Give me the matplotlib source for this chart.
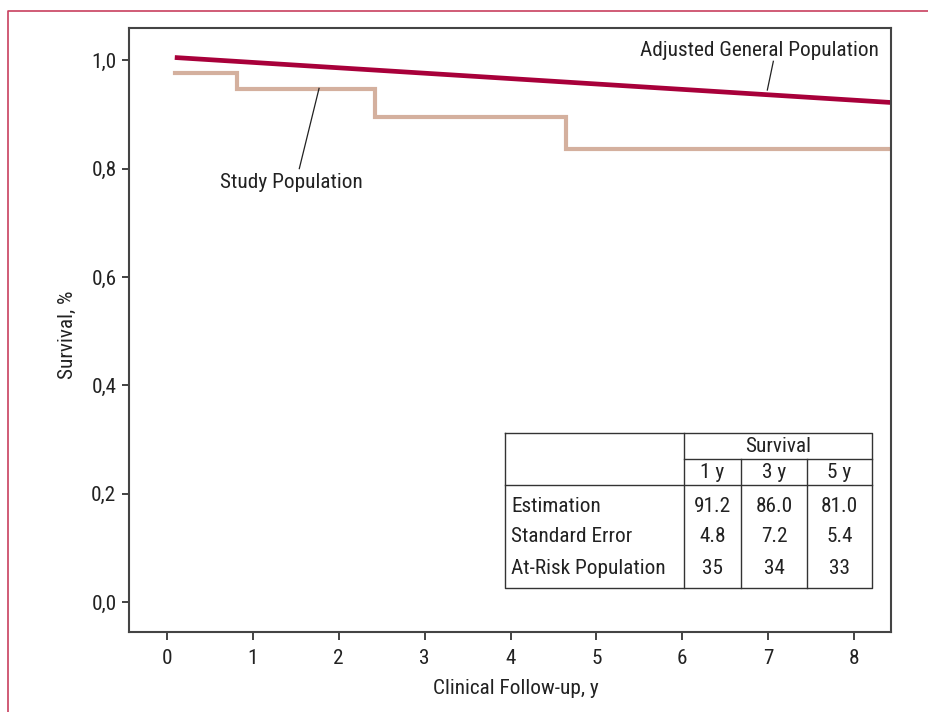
import numpy as np
import matplotlib
matplotlib.use("Agg")
import matplotlib.pyplot as plt
from matplotlib.lines import Line2D

plt.rcParams['font.family'] = ['Roboto Condensed', 'DejaVu Sans']

# data
general_x = [0.09, 8.43]
general_y = [1.005, 0.922]
study_x = [0.09, 0.82, 2.42, 4.65, 8.43]
study_y = [0.977, 0.947, 0.895, 0.836, 0.836]
xticks = list(range(0, 9))
yticks = [0.0, 0.2, 0.4, 0.6, 0.8, 1.0]
ytick_labels = ["0,0", "0,2", "0,4", "0,6", "0,8", "1,0"]

tbl_cols = ["1 y", "3 y", "5 y"]
tbl_rows = ["Estimation", "Standard Error", "At-Risk Population"]
tbl_vals = [["91.2", "86.0", "81.0"],
            ["4.8", "7.2", "5.4"],
            ["35", "34", "33"]]

RED = "#a8003a"
TAN = "#d4b09e"
DARK = "#222222"
W, H = 929, 712
FS = 15.3

fig = plt.figure(figsize=(W / 100, H / 100), dpi=100)
ax = fig.add_axes([129 / W, 1 - 632 / H, (891 - 129) / W, (632 - 27.7) / H])

ax.plot(general_x, general_y, color=RED, lw=3.4, solid_capstyle='butt')
ax.step(study_x, study_y, where='post', color=TAN, lw=3.0, solid_joinstyle='miter')

ax.set_xlim(-0.443, 8.43)
ax.set_ylim(-0.055, 1.06)
ax.set_xticks(xticks)
ax.set_yticks(yticks)
ax.set_yticklabels(ytick_labels)
ax.tick_params(labelsize=FS, colors=DARK, width=1.2)
ax.tick_params(axis='x', length=6, pad=6)
ax.tick_params(axis='y', length=5, pad=4)
for s in ax.spines.values():
    s.set_color("#444444")
    s.set_linewidth(1.5)
ax.set_xlabel("Clinical Follow-up, y", fontsize=FS, color=DARK)
ax.set_ylabel("Survival, %", fontsize=FS, color=DARK)
ax.xaxis.set_label_coords(0.508, -0.078)
ax.yaxis.set_label_coords(-0.068, 0.492)

# labels with leader lines
ax.text(6.9, 1.018, "Adjusted General Population", fontsize=FS, color=DARK, ha='center', va='center')
ax.plot([7.06, 6.99], [0.998, 0.945], color=DARK, lw=0.9)
ax.text(1.445, 0.775, "Study Population", fontsize=FS, color=DARK, ha='center', va='center')
ax.plot([1.77, 1.54], [0.948, 0.80], color=DARK, lw=0.9)


def fx(px):
    return px / W


def fy(py):
    return 1 - py / H


# table drawn in figure pixels
tl = dict(color="#333333", lw=1.0, transform=fig.transFigure)
x0, xc1, xc2, xc3, x4 = 505, 684, 741, 807, 872
y0, y_s, y_h, y1 = 433, 459, 485, 588
fig.add_artist(Line2D([fx(x0), fx(x4), fx(x4), fx(x0), fx(x0)],
                      [fy(y0), fy(y0), fy(y1), fy(y1), fy(y0)], **tl))
fig.add_artist(Line2D([fx(xc1), fx(xc1)], [fy(y0), fy(y1)], **tl))
for xc in (xc2, xc3):
    fig.add_artist(Line2D([fx(xc), fx(xc)], [fy(y_s), fy(y1)], **tl))
fig.add_artist(Line2D([fx(xc1), fx(x4)], [fy(y_s), fy(y_s)], **tl))
fig.add_artist(Line2D([fx(x0), fx(x4)], [fy(y_h), fy(y_h)], **tl))

fig.text(fx((xc1 + x4) / 2), fy(446), "Survival", fontsize=FS, color=DARK, ha='center', va='center')
col_centers = [(xc1 + xc2) / 2, (xc2 + xc3) / 2, (xc3 + x4) / 2]
for c, lab in zip(col_centers, tbl_cols):
    fig.text(fx(c), fy(473), lab, fontsize=FS, color=DARK, ha='center', va='center')
row_y = [506, 537, 568]
for ry, name, vals in zip(row_y, tbl_rows, tbl_vals):
    fig.text(fx(511), fy(ry), name, fontsize=FS, color=DARK, ha='left', va='center')
    for c, v in zip(col_centers, vals):
        fig.text(fx(c), fy(ry), v, fontsize=FS, color=DARK, ha='center', va='center')

# outer red frame
fr = dict(color="#c8405f", lw=1.2, transform=fig.transFigure)
fig.add_artist(Line2D([fx(8), fx(8), fx(W)], [fy(H), fy(11), fy(11)], **fr))

fig.savefig("out.png", dpi=100)
